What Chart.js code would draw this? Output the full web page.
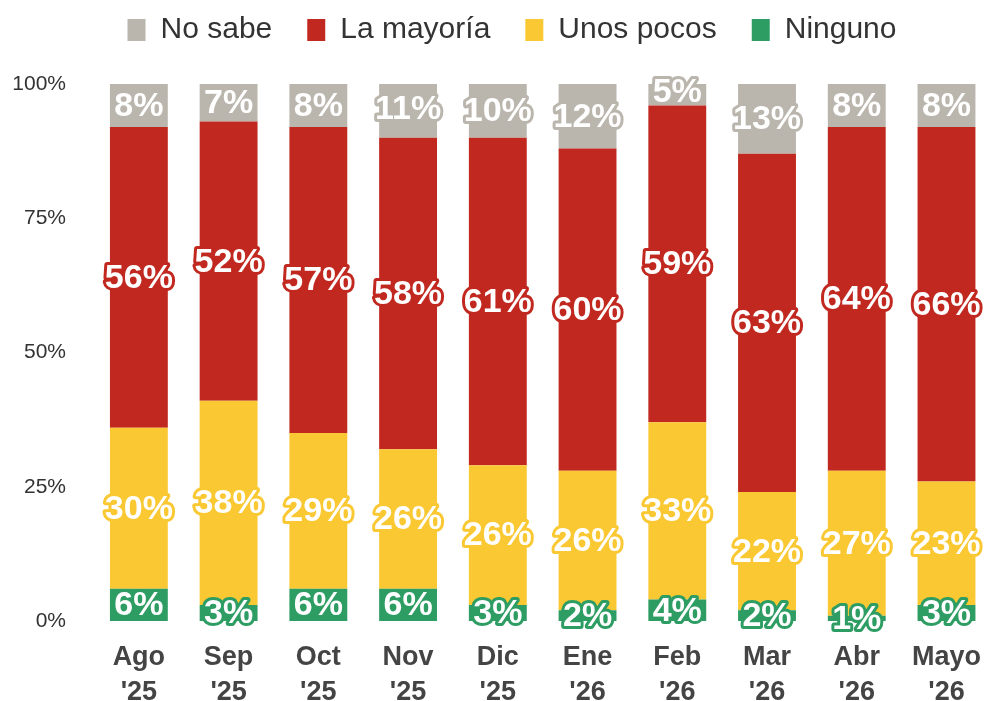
<!DOCTYPE html>
<html>
<head>
<meta charset="utf-8">
<script src="https://cdn.jsdelivr.net/npm/chart.js@4"></script>
<style>
  html, body { margin: 0; padding: 0; background: #fff; }
  #wrap { width: 992px; height: 701px; }
</style>
</head>
<body>
<div id="wrap"><canvas id="chart" width="992" height="701"></canvas></div>
<script>
const months = [["Ago", "'25"], ["Sep", "'25"], ["Oct", "'25"], ["Nov", "'25"], ["Dic", "'25"],
  ["Ene", "'26"], ["Feb", "'26"], ["Mar", "'26"], ["Abr", "'26"], ["Mayo", "'26"]];
const ninguno = [6, 3, 6, 6, 3, 2, 4, 2, 1, 3];
const unosPocos = [30, 38, 29, 26, 26, 26, 33, 22, 27, 23];
const laMayoria = [56, 52, 57, 58, 61, 60, 59, 63, 64, 66];
const noSabe = [8, 7, 8, 11, 10, 12, 5, 13, 8, 8];
const yTicks = [0, 25, 50, 75, 100];

const GREEN = '#2e9d63';
const YELLOW = '#fac832';
const RED = '#c1281f';
const GRAY = '#bab6ad';

// white labels with a coloured outline, centred in each segment
const segmentLabels = {
  id: 'segmentLabels',
  afterDatasetsDraw(chart) {
    const ctx = chart.ctx;
    ctx.save();
    ctx.font = 'bold 34px "Liberation Sans", Arial, sans-serif';
    ctx.textAlign = 'center';
    ctx.textBaseline = 'middle';
    ctx.lineJoin = 'round';
    chart.data.datasets.forEach((ds, i) => {
      const meta = chart.getDatasetMeta(i);
      meta.data.forEach((bar, j) => {
        const txt = ds.data[j] + '%';
        const y = (bar.y + bar.base) / 2 + 1;
        ctx.lineWidth = 6;
        ctx.strokeStyle = ds.backgroundColor;
        ctx.strokeText(txt, bar.x, y);
        ctx.fillStyle = '#fff';
        ctx.fillText(txt, bar.x, y);
      });
    });
    ctx.restore();
  }
};

// taller legend box, and nudge it right so it sits over the bars
const legendBox = {
  id: 'legendBox',
  beforeInit(chart) {
    const fit = chart.legend.fit;
    chart.legend.fit = function () {
      fit.bind(chart.legend)();
      this.height = 104;
    };
  },
  afterLayout(chart) {
    chart.legend.left += 16;
    chart.legend.right += 16;
  }
};

new Chart(document.getElementById('chart'), {
  type: 'bar',
  data: {
    labels: months,
    datasets: [
      { label: 'Ninguno', data: ninguno, backgroundColor: GREEN },
      { label: 'Unos pocos', data: unosPocos, backgroundColor: YELLOW },
      { label: 'La mayoría', data: laMayoria, backgroundColor: RED },
      { label: 'No sabe', data: noSabe, backgroundColor: GRAY }
    ]
  },
  options: {
    responsive: false,
    animation: false,
    layout: { padding: { left: 0, right: 0, top: -20, bottom: 0 } },
    datasets: { bar: { categoryPercentage: 1, barPercentage: 0.645 } },
    scales: {
      x: {
        stacked: true,
        grid: { display: false },
        border: { display: false },
        afterFit(scale) { scale.height = 80; },
        ticks: {
          color: '#444',
          font: { family: '"Liberation Sans", Arial, sans-serif', size: 27, weight: 'bold', lineHeight: 1.3 },
          padding: 11,
          maxRotation: 0
        }
      },
      y: {
        stacked: true,
        min: 0,
        max: 100,
        afterFit(scale) { scale.width = 94; },
        afterBuildTicks(scale) { scale.ticks = yTicks.map(v => ({ value: v })); },
        grid: { display: false },
        border: { display: false },
        ticks: {
          color: '#333',
          padding: 20,
          font: { family: '"Liberation Sans", Arial, sans-serif', size: 21 },
          callback: v => v + '%'
        }
      }
    },
    plugins: {
      legend: {
        reverse: true,
        labels: {
          color: '#333',
          boxWidth: 18,
          boxHeight: 22,
          padding: 35,
          font: { family: '"Liberation Sans", Arial, sans-serif', size: 30 }
        }
      },
      tooltip: { enabled: false }
    }
  },
  plugins: [segmentLabels, legendBox]
});
</script>
</body>
</html>
